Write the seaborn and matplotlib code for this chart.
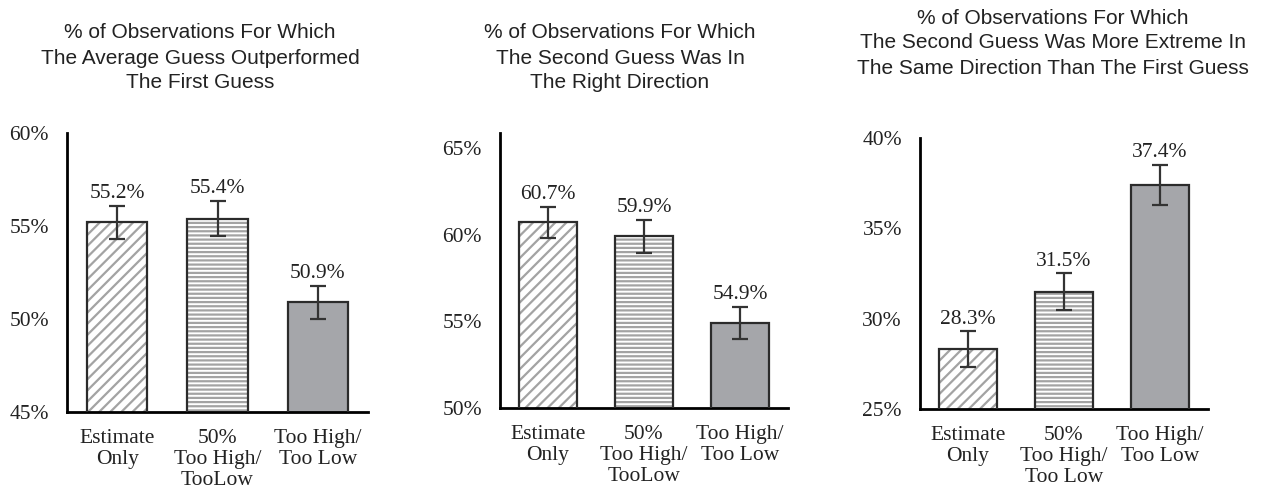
import matplotlib
matplotlib.use("Agg")
import matplotlib.pyplot as plt
import seaborn as sns
import pandas as pd
from matplotlib.patches import Rectangle
from matplotlib.ticker import FuncFormatter

# ---------------- data ----------------
cats_p1 = ["Estimate\nOnly", "50%\nToo High/\nTooLow", "Too High/\nToo Low"]
cats_p2 = ["Estimate\nOnly", "50%\nToo High/\nTooLow", "Too High/\nToo Low"]
cats_p3 = ["Estimate\nOnly", "50%\nToo High/\nToo Low", "Too High/\nToo Low"]

vals_p1 = [55.2, 55.4, 50.9]
errs_p1 = [0.9, 0.95, 0.9]
vals_p2 = [60.7, 59.9, 54.9]
errs_p2 = [0.9, 0.95, 0.93]
vals_p3 = [28.3, 31.5, 37.4]
errs_p3 = [1.0, 1.0, 1.1]

ticks_p1 = [45, 50, 55, 60]
ticks_p2 = [50, 55, 60, 65]
ticks_p3 = [25, 30, 35, 40]

titles = [
    "% of Observations For Which\nThe Average Guess Outperformed\nThe First Guess",
    "% of Observations For Which\nThe Second Guess Was In\nThe Right Direction",
    "% of Observations For Which\nThe Second Guess Was More Extreme In\nThe Same Direction Than The First Guess",
]

# ---------------- style ----------------
sns.set_theme(style="white")
plt.rcParams["font.family"] = ["Liberation Serif", "DejaVu Serif"]
plt.rcParams["hatch.linewidth"] = 1.6

HATCH_GRAY = "#a3a3a3"
SOLID_GRAY = "#a5a6aa"
EDGE = "#2b2b2b"
SERIF_SIZE = 15.5
SANS = ["Liberation Sans", "DejaVu Sans"]

fig = plt.figure(figsize=(12.67, 4.93), dpi=100)

panels = [
    dict(cats=cats_p1, vals=vals_p1, errs=errs_p1, ticks=ticks_p1,
         ylim=(45, 60), rect=[0.0529, 0.1643, 0.2376, 0.566]),
    dict(cats=cats_p2, vals=vals_p2, errs=errs_p2, ticks=ticks_p2,
         ylim=(50, 65.85), rect=[0.3946, 0.1724, 0.2273, 0.5578]),
    dict(cats=cats_p3, vals=vals_p3, errs=errs_p3, ticks=ticks_p3,
         ylim=(25, 40), rect=[0.7261, 0.1704, 0.2273, 0.5497]),
]
hatches = ["///", "----", None]
faces = ["white", "white", SOLID_GRAY]

for pnl in panels:
    ax = fig.add_axes(pnl["rect"])
    df = pd.DataFrame({"cat": pnl["cats"], "val": pnl["vals"]})
    sns.barplot(data=df, x="cat", y="val", hue="cat", palette=faces,
                width=0.6, legend=False, ax=ax, errorbar=None, saturation=1)
    bars = list(ax.patches)
    centers = []
    for bar, h in zip(bars, hatches):
        if h:
            bar.set_hatch(h)
            bar.set_edgecolor(HATCH_GRAY)
        bar.set_linewidth(0)
        ax.add_patch(Rectangle(bar.get_xy(), bar.get_width(), bar.get_height(),
                               fill=False, edgecolor=EDGE, linewidth=1.6, zorder=3))
        centers.append(bar.get_x() + bar.get_width() / 2)
    ax.errorbar(centers, pnl["vals"], yerr=pnl["errs"], fmt="none",
                ecolor="#333333", elinewidth=1.6, capsize=5.5, capthick=1.6, zorder=4)
    for xc, v, e in zip(centers, pnl["vals"], pnl["errs"]):
        ax.annotate(f"{v:.1f}%", xy=(xc, v + e), xytext=(0, 2),
                    textcoords="offset points", ha="center", va="bottom",
                    fontsize=SERIF_SIZE, color="#222222")
    ax.set_xlim(-0.5, 2.5)
    ax.set_ylim(*pnl["ylim"])
    ax.set_yticks(pnl["ticks"])
    ax.yaxis.set_major_formatter(FuncFormatter(lambda y, _: f"{int(round(y))}%"))
    ax.set_xlabel("")
    ax.set_ylabel("")
    ax.tick_params(axis="y", length=0, pad=13, labelsize=SERIF_SIZE, labelcolor="#222222")
    ax.tick_params(axis="x", length=0, pad=12, labelsize=SERIF_SIZE, labelcolor="#222222")
    for lab in ax.get_xticklabels():
        lab.set_linespacing(1.17)
    for s in ["top", "right"]:
        ax.spines[s].set_visible(False)
    for s in ["left", "bottom"]:
        ax.spines[s].set_color("black")
        ax.spines[s].set_linewidth(2.0)

title_pos = [(200 / 1267, 1 - 58 / 493), (620 / 1267, 1 - 58 / 493), (1053 / 1267, 1 - 43 / 493)]
for (tx, ty), t in zip(title_pos, titles):
    fig.text(tx, ty, t, ha="center", va="center", family=SANS, fontsize=15,
             linespacing=1.4, color="#222222")

fig.savefig("out.png", dpi=100)
